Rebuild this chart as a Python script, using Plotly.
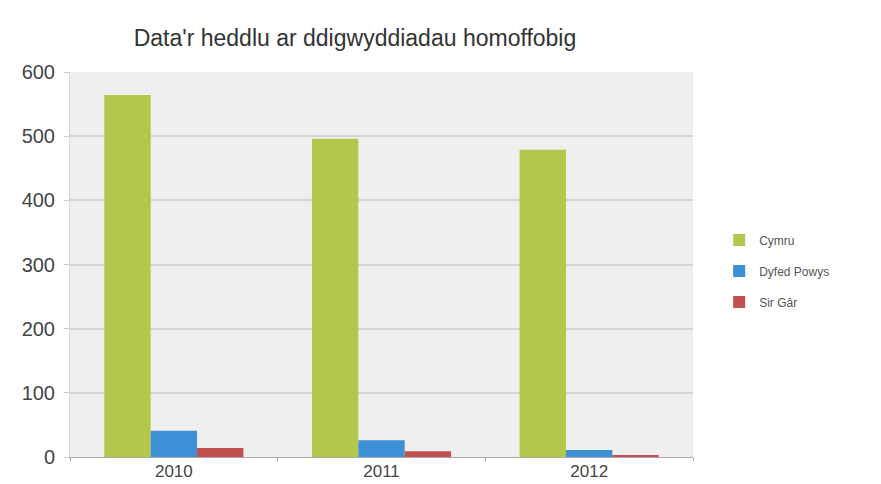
import plotly.graph_objects as go

years = ["2010", "2011", "2012"]
cymru = [564, 496, 479]
dyfed_powys = [41, 26, 11]
sir_gar = [14, 9, 3]

series_names = ["Cymru", "Dyfed Powys", "Sir Gâr"]
colors = ["#b2c74c", "#3d8fd6", "#c2504f"]

fig = go.Figure()
for name, vals, col in zip(series_names, [cymru, dyfed_powys, sir_gar], colors):
    fig.add_trace(go.Bar(x=years, y=vals, name=name, legendgroup=name,
                         marker=dict(color=col, line=dict(width=0))))

fig.update_layout(
    width=881, height=484,
    margin=dict(l=62, r=196, t=64, b=35),
    paper_bgcolor="white",
    plot_bgcolor="#efefef",
    font=dict(family="Liberation Sans, Arial, sans-serif", color="#444"),
    title=dict(text="Data'r heddlu ar ddigwyddiadau homoffobig", x=347 / 881, xanchor="center",
               y=1 - 30 / 484, yanchor="middle", yref="container",
               font=dict(size=23, color="#333")),
    barmode="group", bargap=0.33, bargroupgap=0,
    legend=dict(x=1.042, y=0.483, xanchor="left", yanchor="middle",
                font=dict(size=12, color="#555"), itemwidth=30, tracegroupgap=12,
                bgcolor="rgba(0,0,0,0)"),
    showlegend=True,
)
fig.update_xaxes(showline=True, linecolor="#aaaaaa", linewidth=1, ticks="outside",
                 tickson="boundaries", ticklen=3, tickcolor="#aaaaaa", automargin=False,
                 ticklabelstandoff=-1,
                 tickfont=dict(size=17, color="#444"), showgrid=False)
fig.update_yaxes(range=[0, 600], dtick=100, showgrid=True, gridcolor="#d4d4d4", gridwidth=2,
                 showline=True, linecolor="#d8d8d8", ticks="outside", ticklen=5, automargin=False,
                 ticklabelstandoff=5,
                 tickcolor="#cccccc", tickfont=dict(size=20, color="#444"), zeroline=False)

fig.write_html("out.html")
